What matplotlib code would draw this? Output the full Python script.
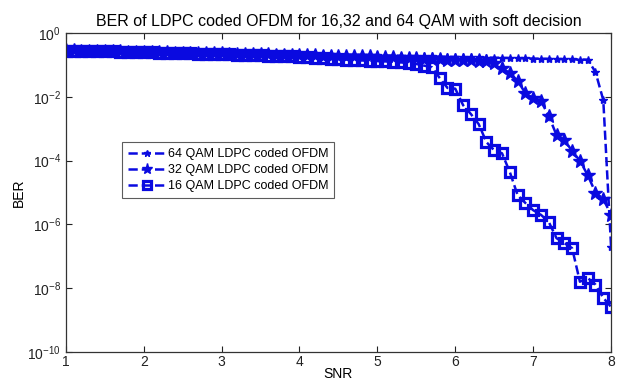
import numpy as np
import matplotlib
matplotlib.use("Agg")
import matplotlib.pyplot as plt

plt.rcParams['font.family'] = ['Liberation Sans', 'DejaVu Sans']

snr = np.round(np.arange(1.0, 8.0001, 0.1), 1)

ber_64 = [0.316, 0.312, 0.309, 0.305, 0.302, 0.298, 0.295, 0.291, 0.288, 0.285,
          0.282, 0.278, 0.275, 0.272, 0.269, 0.266, 0.263, 0.260, 0.257, 0.254,
          0.251, 0.248, 0.245, 0.243, 0.240, 0.237, 0.234, 0.232, 0.229, 0.227,
          0.224, 0.221, 0.219, 0.216, 0.214, 0.211, 0.209, 0.207, 0.204, 0.202,
          0.200, 0.197, 0.195, 0.193, 0.191, 0.188, 0.186, 0.184, 0.182, 0.180,
          0.178, 0.176, 0.174, 0.172, 0.170, 0.168, 0.166, 0.164, 0.162, 0.160,
          0.158, 0.156, 0.155, 0.153, 0.151, 0.149, 0.148, 0.146, 0.060, 0.0079,
          2.0e-7]

ber_32 = [0.288, 0.285, 0.282, 0.278, 0.275, 0.272, 0.269, 0.266, 0.263, 0.260,
          0.257, 0.254, 0.251, 0.248, 0.245, 0.243, 0.240, 0.237, 0.234, 0.232,
          0.229, 0.227, 0.224, 0.221, 0.219, 0.216, 0.214, 0.211, 0.209, 0.207,
          0.204, 0.202, 0.200, 0.197, 0.195, 0.193, 0.191, 0.188, 0.186, 0.184,
          0.182, 0.178, 0.174, 0.170, 0.166, 0.162, 0.158, 0.155, 0.151, 0.148,
          0.145, 0.141, 0.138, 0.135, 0.132, 0.112, 0.079, 0.056, 0.032, 0.013,
          0.0091, 0.0074, 0.0025, 6.3e-4, 4.5e-4, 2.0e-4, 1.0e-4, 3.5e-5, 1.0e-5, 6.3e-6,
          2.0e-6]

ber_16 = [0.282, 0.279, 0.276, 0.273, 0.270, 0.267, 0.264, 0.261, 0.258, 0.254,
          0.251, 0.248, 0.244, 0.241, 0.238, 0.234, 0.231, 0.228, 0.225, 0.222,
          0.219, 0.215, 0.211, 0.207, 0.204, 0.200, 0.196, 0.193, 0.189, 0.186,
          0.182, 0.176, 0.170, 0.164, 0.158, 0.153, 0.148, 0.143, 0.138, 0.136,
          0.132, 0.129, 0.126, 0.120, 0.115, 0.107, 0.095, 0.085, 0.039, 0.019,
          0.018, 5.5e-3, 2.9e-3, 1.4e-3, 3.8e-4, 2.1e-4, 1.7e-4, 4.4e-5, 8.3e-6, 4.7e-6,
          2.8e-6, 2.0e-6, 1.2e-6, 3.7e-7, 2.6e-7, 1.8e-7, 1.6e-8, 2.1e-8, 1.3e-8, 5.0e-9,
          2.6e-9]

labels = ['64 QAM LDPC coded OFDM', '32 QAM LDPC coded OFDM', '16 QAM LDPC coded OFDM']
title = 'BER of LDPC coded OFDM for 16,32 and 64 QAM with soft decision'
xticks = [1, 2, 3, 4, 5, 6, 7, 8]
yticks = [1e0, 1e-2, 1e-4, 1e-6, 1e-8, 1e-10]

blue = '#0a0ae0'
fig = plt.figure(figsize=(6.21, 3.82), dpi=100)
ax = fig.add_axes([0.106, 0.0785, 0.878, 0.835])

ax.semilogy(snr, ber_64, '--', color=blue, lw=1.8, marker='*', ms=6, mfc=blue, mec=blue, label=labels[0])
ax.semilogy(snr, ber_32, '--', color=blue, lw=1.8, marker='*', ms=10, mfc=blue, mec=blue, label=labels[1])
ax.semilogy(snr, ber_16, '--', color=blue, lw=1.8, marker='s', ms=6.5, mfc='none', mec=blue, mew=2.3, label=labels[2])

ax.set_xlim(1, 8)
ax.set_ylim(1e-10, 1e0)
ax.set_xticks(xticks)
ax.set_xticklabels([str(t) for t in xticks])
ax.set_yticks(yticks)
ax.yaxis.set_minor_locator(matplotlib.ticker.NullLocator())
ax.tick_params(direction='in', top=True, right=True, labelsize=10, length=4, width=0.8, colors='#222222')
ax.tick_params(axis='x', pad=2)
for s in ax.spines.values():
    s.set_color('#333333')
    s.set_linewidth(0.9)

ax.set_title(title, fontsize=11.5, pad=5)
ax.set_xlabel('SNR', fontsize=10, labelpad=-1)
ax.set_ylabel('BER', fontsize=10, labelpad=1)

leg = ax.legend(loc='upper left', bbox_to_anchor=(0.103, 0.658), fontsize=9, frameon=True,
                fancybox=False, edgecolor='#333333', handlelength=3.0, borderpad=0.5,
                labelspacing=0.3, handletextpad=0.15, borderaxespad=0, markerscale=0.8)
leg.get_frame().set_linewidth(0.8)

fig.savefig('out.png', dpi=100)
